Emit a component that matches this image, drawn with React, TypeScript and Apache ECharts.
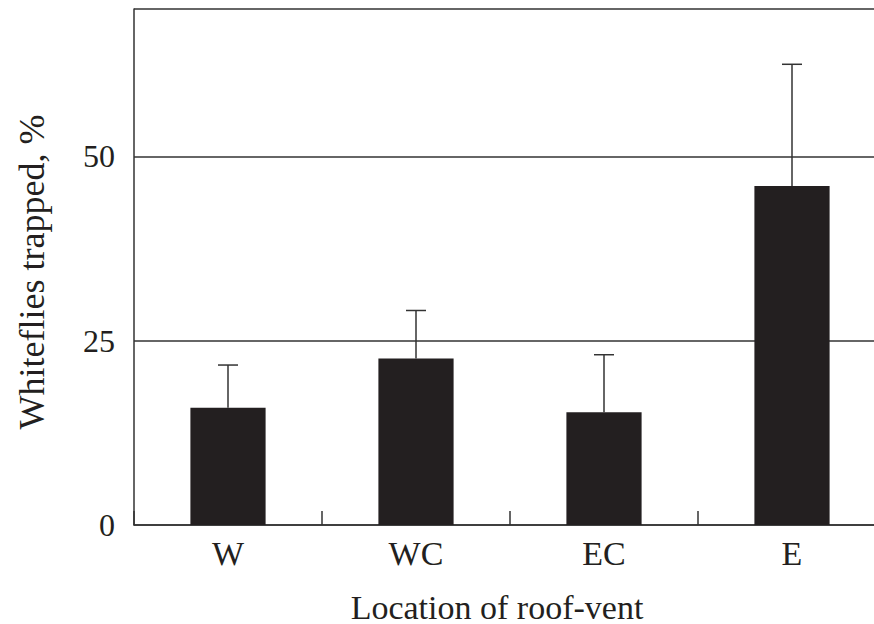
import React, { useEffect, useRef } from "react";
import * as echarts from "echarts";

// Roof-vent locations and mean percentage of whiteflies trapped, with upper error bounds
const categories = ["W", "WC", "EC", "E"];
const meanValues = [15.9, 22.6, 15.3, 46.0];
const upperValues = [21.7, 29.1, 23.1, 62.5];
const yTicks = [0, 25, 50];

const FONT = "'Liberation Serif', 'Times New Roman', serif";
const INK = "#231f20";

export default function App() {
  const ref = useRef<HTMLDivElement | null>(null);

  useEffect(() => {
    if (!ref.current) return;
    const chart = echarts.init(ref.current, null, { renderer: "svg" });

    const errorData = categories.map((_, i) => [i, meanValues[i], upperValues[i]]);

    chart.setOption({
      animation: false,
      backgroundColor: "#ffffff",
      grid: {
        left: 134,
        top: 9,
        bottom: 99,
        right: -12,
        containLabel: false,
        outerBoundsMode: "none",
      },
      xAxis: {
        type: "category",
        data: categories,
        boundaryGap: true,
        name: "Location of roof-vent",
        nameLocation: "middle",
        nameGap: 65,
        nameTextStyle: {
          fontFamily: FONT,
          fontSize: 34,
          color: INK,
          padding: [0, 26, 0, 0],
        },
        axisLine: { lineStyle: { color: "#333", width: 1.5 } },
        axisTick: {
          show: true,
          inside: true,
          length: 14,
          alignWithLabel: false,
          lineStyle: { color: "#333", width: 1.5 },
        },
        axisLabel: {
          fontFamily: FONT,
          fontSize: 34,
          color: INK,
          margin: 11,
        },
        splitLine: { show: false },
      },
      yAxis: {
        type: "value",
        min: 0,
        max: 70,
        interval: 25,
        name: "Whiteflies trapped, %",
        nameLocation: "middle",
        nameGap: 84,
        nameTextStyle: {
          fontFamily: FONT,
          fontSize: 36,
          color: INK,
          padding: [0, 10, 0, 0],
        },
        axisLine: { show: true, lineStyle: { color: "#333", width: 1.5 } },
        axisTick: { show: false },
        axisLabel: {
          fontFamily: FONT,
          fontSize: 32,
          color: INK,
          margin: 19,
          showMaxLabel: false,
          formatter: (v: number) => (yTicks.includes(v) ? String(v) : ""),
        },
        splitLine: { show: true, lineStyle: { color: "#333", width: 1.5 } },
      },
      series: [
        {
          type: "bar",
          data: meanValues,
          barWidth: "40%",
          itemStyle: { color: INK },
          z: 2,
        },
        {
          type: "custom",
          data: errorData,
          z: 3,
          renderItem: (params: any, api: any) => {
            const idx = api.value(0);
            const base = api.coord([idx, api.value(1)]);
            const top = api.coord([idx, api.value(2)]);
            const half = 10;
            const style = { stroke: "#333", lineWidth: 1.5 };
            return {
              type: "group",
              children: [
                {
                  type: "line",
                  shape: { x1: base[0], y1: base[1], x2: top[0], y2: top[1] },
                  style,
                },
                {
                  type: "line",
                  shape: { x1: top[0] - half, y1: top[1], x2: top[0] + half, y2: top[1] },
                  style,
                },
              ],
            };
          },
        },
      ],
    });

    return () => chart.dispose();
  }, []);

  return (
    <div
      ref={ref}
      style={{ position: "absolute", left: 0, top: 0, width: 874, height: 624 }}
    />
  );
}
